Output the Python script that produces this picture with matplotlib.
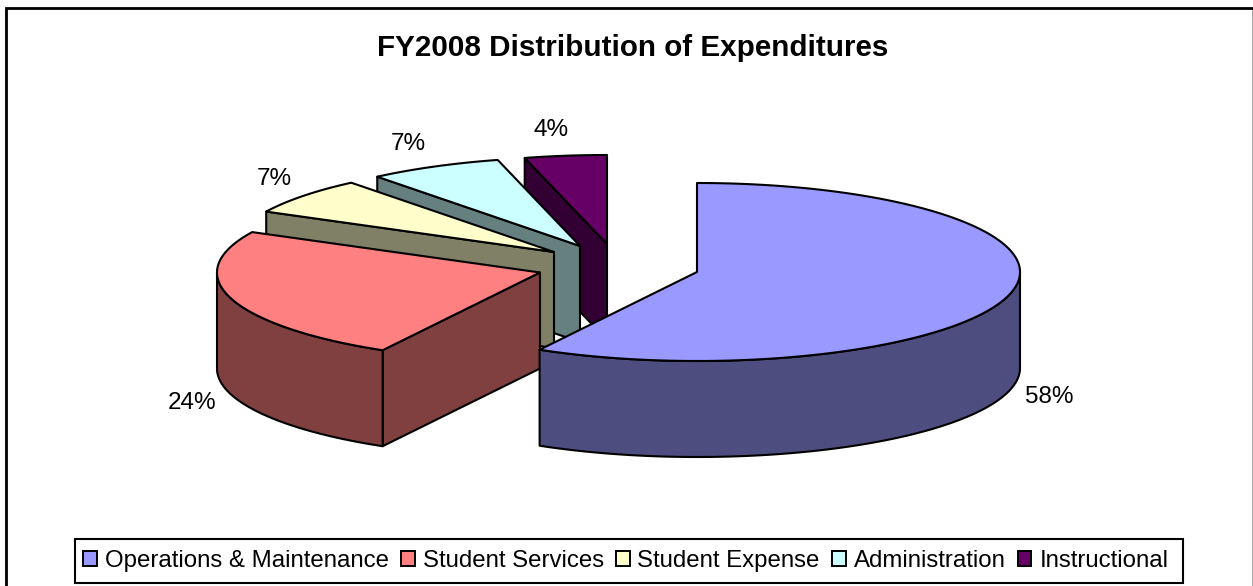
import numpy as np
import matplotlib
matplotlib.use("Agg")
import matplotlib.pyplot as plt
from matplotlib.patches import Polygon, Patch, Rectangle

plt.rcParams['font.family'] = ['Liberation Sans', 'DejaVu Sans']

# ---- data ----
title = "FY2008 Distribution of Expenditures"
categories = ["Operations & Maintenance", "Student Services", "Student Expense",
              "Administration", "Instructional"]
shares = [58.1, 24.4, 6.7, 6.7, 4.1]

# ---- style / layout (pixels of the picture) ----
top_colors = ["#9999FF", "#FF8080", "#FFFFCC", "#CCFFFF", "#660066"]
side_colors = ["#4D4D80", "#804040", "#808066", "#668080", "#330033"]
apex_x = [697, 540, 554, 580, 607]
apex_y = [272, 272.5, 252, 246, 244]
label_x = [1049, 192, 274, 408, 551]
label_y = [397, 403, 179, 144, 130]
RX, RY, DEPTH = 323, 89, 96
LW = 1.5

fig = plt.figure(figsize=(12.53, 5.86), dpi=100)
ax = fig.add_axes([0, 0, 1, 1])
ax.set_xlim(0, 1253)
ax.set_ylim(586, 0)
ax.axis("off")

# frame
ax.plot([4.5, 4.5], [9, 586], color="#C8C8C8", lw=0.8)
ax.plot([1252, 1252], [9, 586], color="#A8A8A8", lw=0.8)
ax.plot([6, 6, 1253], [586, 8, 8], color="black", lw=2.0, solid_joinstyle="miter")


def ring(cx, cy, a0, a1):
    t = np.radians(np.linspace(a0, a1, max(2, int(abs(a1 - a0) * 2))))
    return np.column_stack([cx + RX * np.sin(t), cy - RY * np.cos(t)])


edges = np.cumsum([0] + shares) * 3.6
for i in reversed(range(len(shares))):
    cx, cy = apex_x[i], apex_y[i]
    a0, a1 = edges[i], edges[i + 1]
    style = dict(edgecolor="black", linewidth=LW, joinstyle="round")
    # cut face along the starting radius
    if np.sin(np.radians(a0)) < -1e-9:
        p = ring(cx, cy, a0, a0)[0]
        ax.add_patch(Polygon([(cx, cy), p, p + (0, DEPTH), (cx, cy + DEPTH)],
                             facecolor=side_colors[i], **style))
    # outer rim
    lo, hi = max(a0, 90), min(a1, 270)
    if hi > lo:
        arc = ring(cx, cy, lo, hi)
        ax.add_patch(Polygon(np.vstack([arc, (arc + (0, DEPTH))[::-1]]),
                             facecolor=side_colors[i], **style))
    # top surface
    ax.add_patch(Polygon(np.vstack([[(cx, cy)], ring(cx, cy, a0, a1)]),
                         facecolor=top_colors[i], **style))

for v, x, y in zip(shares, label_x, label_y):
    ax.text(x, y, f"{round(v)}%", ha="center", va="center", fontsize=17.5, color="black")

ax.text(632.5, 48.5, title, ha="center", va="center", fontsize=21.3, fontweight="bold",
        color="black")

# legend box and legend
ax.add_patch(Rectangle((75, 538.5), 1108, 44.5, facecolor="white", edgecolor="black",
                       linewidth=1.5))
handles = [Patch(facecolor=c, edgecolor="black", linewidth=1.4) for c in top_colors]
leg = ax.legend(handles, categories, ncol=5, loc="center left",
                bbox_to_anchor=(83, 561), bbox_transform=ax.transData,
                fontsize=17.25, frameon=False,
                handlelength=0.58, handleheight=0.58,
                handletextpad=0.33, columnspacing=0.5, borderpad=0, borderaxespad=0)

fig.savefig("out.png", dpi=100)
